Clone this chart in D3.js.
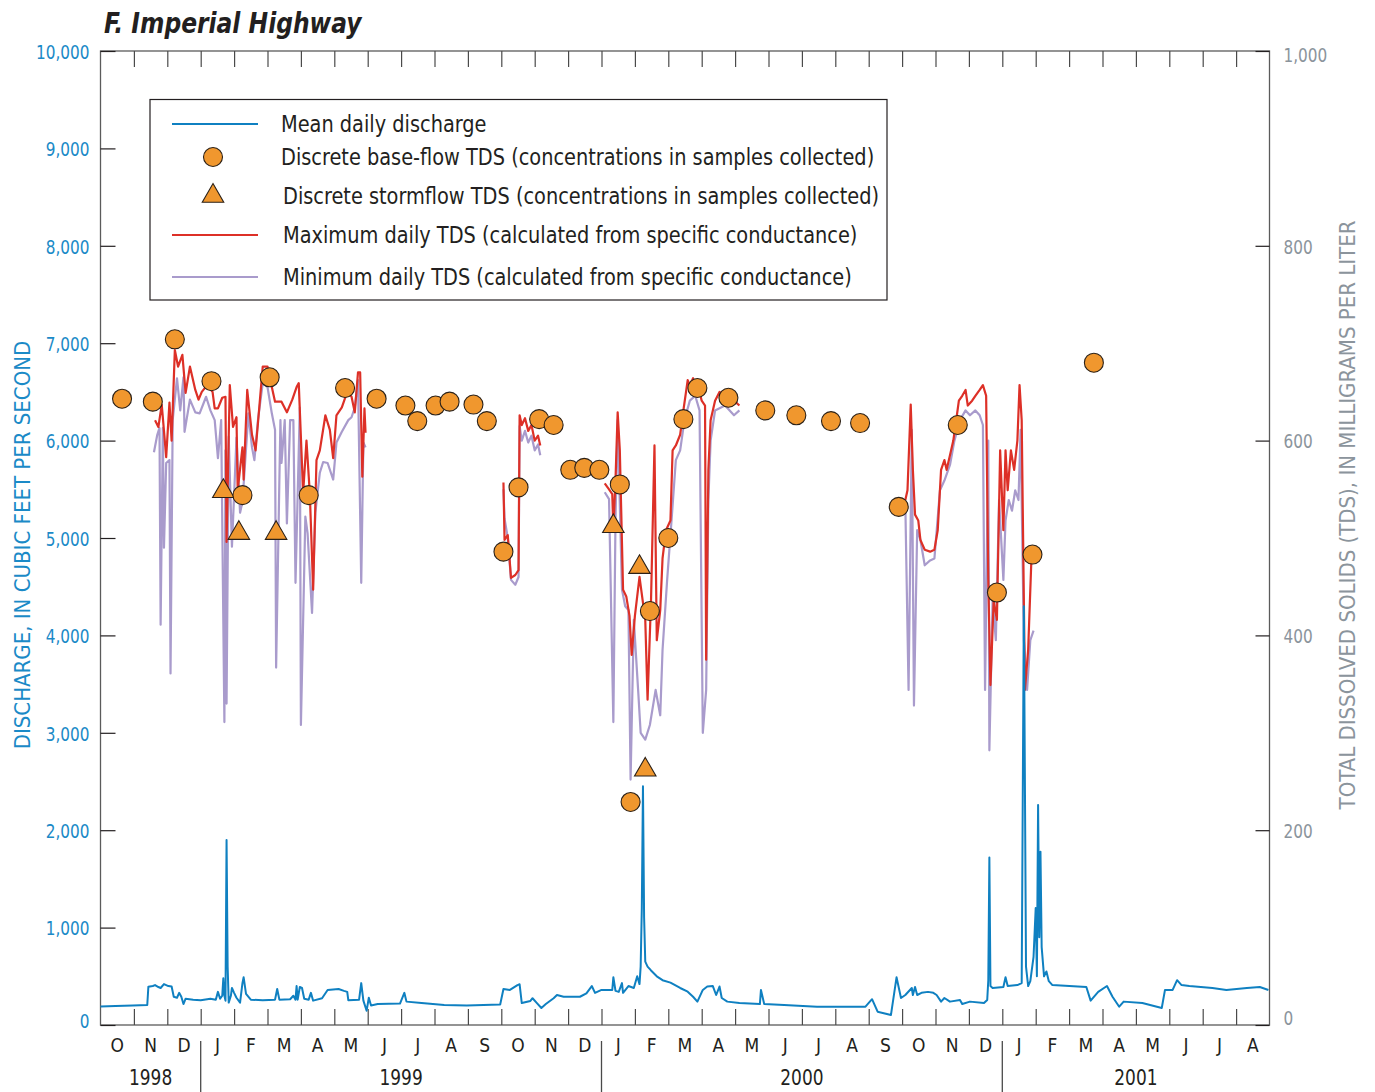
<!DOCTYPE html>
<html>
<head>
<meta charset="utf-8">
<script src="https://cdn.jsdelivr.net/npm/d3@7"></script>
<style>
  html, body { margin: 0; padding: 0; background: #fff; }
  svg { display: block; }
  text { font-family: "DejaVu Sans Condensed", "Liberation Sans Narrow", sans-serif; }
</style>
</head>
<body>
<svg id="chart" width="1375" height="1092"></svg>
<script>
// ---- Data -------------------------------------------------------------
// Mean daily discharge, cubic feet per second
const discharge = [
  ["1998-10-01",190],["1998-10-15",195],["1998-10-31",200],["1998-11-13",205],["1998-11-14",393],
  ["1998-11-18",400],["1998-11-20",410],["1998-11-23",390],["1998-11-25",380],["1998-11-28",420],
  ["1998-12-02",400],["1998-12-05",395],["1998-12-07",290],["1998-12-10",280],["1998-12-12",330],
  ["1998-12-14",290],["1998-12-16",215],["1998-12-18",270],["1998-12-25",260],["1999-01-01",255],
  ["1999-01-10",270],["1999-01-15",260],["1999-01-17",340],["1999-01-19",270],["1999-01-21",300],
  ["1999-01-22",480],["1999-01-23",300],["1999-01-24",250],["1999-01-25",1900],["1999-01-26",600],
  ["1999-01-27",230],["1999-01-29",300],["1999-01-30",380],["1999-02-01",330],["1999-02-03",280],
  ["1999-02-06",230],["1999-02-08",430],["1999-02-09",490],["1999-02-11",320],["1999-02-15",260],
  ["1999-02-25",255],["1999-03-08",260],["1999-03-10",370],["1999-03-12",260],["1999-03-22",265],
  ["1999-03-25",300],["1999-03-27",260],["1999-03-28",400],["1999-03-29",260],["1999-03-31",390],
  ["1999-04-02",380],["1999-04-04",270],["1999-04-08",260],["1999-04-10",330],["1999-04-12",250],
  ["1999-04-20",275],["1999-04-25",360],["1999-05-05",370],["1999-05-10",350],["1999-05-13",340],
  ["1999-05-14",255],["1999-05-24",260],["1999-05-26",430],["1999-05-28",250],["1999-05-31",147],
  ["1999-06-02",280],["1999-06-04",200],["1999-06-10",215],["1999-06-30",220],["1999-07-04",330],
  ["1999-07-06",240],["1999-07-20",225],["1999-08-10",205],["1999-08-31",200],["1999-09-15",205],
  ["1999-09-30",210],["1999-10-03",370],["1999-10-09",360],["1999-10-16",410],["1999-10-18",418],
  ["1999-10-20",225],["1999-10-28",247],["1999-10-30",275],["1999-11-03",225],["1999-11-07",175],
  ["1999-11-11",215],["1999-11-18",275],["1999-11-21",308],["1999-11-27",290],["1999-12-12",290],
  ["1999-12-18",325],["1999-12-23",400],["1999-12-26",330],["2000-01-01",360],["2000-01-11",360],
  ["2000-01-12",490],["2000-01-14",350],["2000-01-17",340],["2000-01-20",430],["2000-01-21",330],
  ["2000-01-26",400],["2000-01-31",380],["2000-02-03",500],["2000-02-05",420],["2000-02-06",600],
  ["2000-02-07",1200],["2000-02-08",2450],["2000-02-09",1100],["2000-02-10",650],["2000-02-12",600],
  ["2000-02-15",560],["2000-02-20",500],["2000-02-25",460],["2000-03-03",435],["2000-03-12",380],
  ["2000-03-19",342],["2000-03-24",290],["2000-03-28",240],["2000-04-02",360],["2000-04-06",395],
  ["2000-04-11",400],["2000-04-14",308],["2000-04-17",395],["2000-04-19",277],["2000-04-24",240],
  ["2000-05-05",225],["2000-05-24",215],["2000-05-25",360],["2000-05-28",215],["2000-06-15",205],
  ["2000-07-15",188],["2000-08-29",188],["2000-09-04",265],["2000-09-09",137],["2000-09-21",103],
  ["2000-09-26",490],["2000-09-30",277],["2000-10-04",308],["2000-10-10",380],["2000-10-11",308],
  ["2000-10-13",390],["2000-10-15",308],["2000-10-19",330],["2000-10-25",340],["2000-10-30",330],
  ["2000-11-02",308],["2000-11-06",240],["2000-11-09",277],["2000-11-14",240],["2000-11-23",257],
  ["2000-11-25",215],["2000-12-02",240],["2000-12-15",225],["2000-12-18",257],["2000-12-19",460],
  ["2000-12-20",1720],["2000-12-21",400],["2000-12-23",380],["2001-01-02",390],["2001-01-04",490],
  ["2001-01-06",400],["2001-01-15",410],["2001-01-19",430],["2001-01-21",4300],["2001-01-23",600],
  ["2001-01-25",400],["2001-01-27",450],["2001-01-30",700],["2001-02-01",1200],["2001-02-02",500],
  ["2001-02-03",2260],["2001-02-04",900],["2001-02-05",1780],["2001-02-06",800],["2001-02-08",500],
  ["2001-02-10",550],["2001-02-12",450],["2001-02-15",410],["2001-03-17",390],["2001-03-21",250],
  ["2001-03-28",340],["2001-04-05",400],["2001-04-10",290],["2001-04-16",188],["2001-04-20",240],
  ["2001-05-07",225],["2001-05-25",175],["2001-05-28",360],["2001-06-04",360],["2001-06-08",460],
  ["2001-06-12",410],["2001-06-19",400],["2001-07-10",380],["2001-07-23",360],["2001-08-11",380],
  ["2001-08-23",390],["2001-08-31",360]
];

// Maximum daily TDS, mg/L (one array per continuous record period)
const tdsMax1 = [
  ["1998-11-20",621],["1998-11-23",614],["1998-11-26",637],["1998-11-30",583],["1998-12-03",639],
  ["1998-12-05",600],["1998-12-08",693],["1998-12-11",676],["1998-12-15",688],["1998-12-18",649],
  ["1998-12-22",676],["1998-12-27",652],["1998-12-30",642],["1999-01-02",650],["1999-01-07",657],
  ["1999-01-12",650],["1999-01-14",633],["1999-01-17",633],["1999-01-21",644],["1999-01-24",645],
  ["1999-01-25",496],["1999-01-28",657],["1999-01-31",614],["1999-02-03",624],["1999-02-04",549],
  ["1999-02-08",593],["1999-02-09",560],["1999-02-12",652],["1999-02-16",606],["1999-02-19",590],
  ["1999-02-21",618],["1999-02-25",676],["1999-03-01",676],["1999-03-05",655],["1999-03-08",640],
  ["1999-03-14",640],["1999-03-19",629],["1999-03-24",642],["1999-03-28",655],["1999-03-30",659],
  ["1999-04-03",546],["1999-04-06",600],["1999-04-09",546],["1999-04-12",447],["1999-04-15",580],
  ["1999-04-18",590],["1999-04-23",626],["1999-04-27",611],["1999-04-30",582],["1999-05-03",626],
  ["1999-05-08",634],["1999-05-13",650],["1999-05-17",645],["1999-05-20",629],["1999-05-23",670],
  ["1999-05-25",670],["1999-05-27",563],["1999-05-29",633],["1999-05-30",608]
];
const tdsMax2 = [
  ["1999-10-03",557],["1999-10-04",498],["1999-10-07",503],["1999-10-10",459],["1999-10-14",462],
  ["1999-10-17",467],["1999-10-18",626],["1999-10-20",616],["1999-10-23",623],["1999-10-26",610],
  ["1999-10-29",616],["1999-11-01",600],["1999-11-04",605],["1999-11-06",595]
];
const tdsMax3 = [
  ["2000-01-04",556],["2000-01-08",550],["2000-01-11",545],["2000-01-12",508],["2000-01-14",560],
  ["2000-01-16",629],["2000-01-18",590],["2000-01-21",447],["2000-01-24",440],["2000-01-27",420],
  ["2000-01-29",380],["2000-02-01",420],["2000-02-05",460],["2000-02-10",416],["2000-02-12",334],
  ["2000-02-15",436],["2000-02-18",595],["2000-02-20",395],["2000-02-23",426],["2000-02-25",479],
  ["2000-02-28",508],["2000-03-03",518],["2000-03-05",590],["2000-03-08",595],["2000-03-12",606],
  ["2000-03-15",631],["2000-03-19",662],["2000-03-21",657],["2000-03-24",664],["2000-03-27",652],
  ["2000-03-30",650],["2000-04-01",641],["2000-04-04",636],["2000-04-05",375],["2000-04-07",570],
  ["2000-04-09",621],["2000-04-13",641],["2000-04-17",650],["2000-04-22",647],["2000-04-26",644],
  ["2000-04-30",641],["2000-05-05",636]
];
const tdsMax4 = [
  ["2000-10-04",539],["2000-10-06",549],["2000-10-09",637],["2000-10-11",570],["2000-10-13",524],
  ["2000-10-16",518],["2000-10-18",498],["2000-10-22",488],["2000-10-27",486],["2000-10-31",488],
  ["2000-11-03",508],["2000-11-06",570],["2000-11-09",580],["2000-11-11",570],["2000-11-14",585],
  ["2000-11-17",600],["2000-11-19",616],["2000-11-22",641],["2000-11-25",646],["2000-11-28",652],
  ["2000-11-30",636],["2000-12-04",641],["2000-12-07",646],["2000-12-11",652],["2000-12-14",657],
  ["2000-12-17",646],["2000-12-19",457],["2000-12-21",349],["2000-12-24",436],["2000-12-27",416],
  ["2000-12-30",590],["2001-01-02",508],["2001-01-04",590],["2001-01-06",549],["2001-01-09",590],
  ["2001-01-12",570],["2001-01-15",600],["2001-01-17",657],["2001-01-19",621],["2001-01-22",344],
  ["2001-01-25",385],["2001-01-28",478],["2001-01-30",483]
];

// Minimum daily TDS, mg/L
const tdsMin1 = [
  ["1998-11-19",588],["1998-11-22",606],["1998-11-24",613],["1998-11-25",411],["1998-11-27",613],
  ["1998-11-28",490],["1998-11-30",577],["1998-12-03",580],["1998-12-04",361],["1998-12-06",621],
  ["1998-12-10",664],["1998-12-13",631],["1998-12-16",665],["1998-12-17",609],["1998-12-22",642],
  ["1998-12-27",629],["1998-12-31",628],["1999-01-06",645],["1999-01-10",631],["1999-01-14",621],
  ["1999-01-17",582],["1999-01-20",621],["1999-01-23",311],["1999-01-24",590],["1999-01-25",330],
  ["1999-01-27",604],["1999-01-30",491],["1999-02-03",603],["1999-02-06",526],["1999-02-08",537],
  ["1999-02-13",628],["1999-02-16",593],["1999-02-18",580],["1999-02-21",621],["1999-02-25",659],
  ["1999-03-01",655],["1999-03-05",628],["1999-03-08",611],["1999-03-09",367],["1999-03-13",621],
  ["1999-03-14",577],["1999-03-17",621],["1999-03-19",515],["1999-03-22",621],["1999-03-25",621],
  ["1999-03-27",454],["1999-03-31",634],["1999-04-01",308],["1999-04-05",522],["1999-04-07",505],
  ["1999-04-11",423],["1999-04-14",526],["1999-04-18",567],["1999-04-21",578],["1999-04-25",577],
  ["1999-04-30",560],["1999-05-03",598],["1999-05-08",609],["1999-05-14",621],["1999-05-17",624],
  ["1999-05-20",634],["1999-05-23",662],["1999-05-26",454],["1999-05-28",598],["1999-05-30",593]
];
const tdsMin2 = [
  ["1999-10-03",550],["1999-10-04",520],["1999-10-07",500],["1999-10-10",457],["1999-10-14",452],
  ["1999-10-17",460],["1999-10-18",615],["1999-10-20",600],["1999-10-23",610],["1999-10-26",598],
  ["1999-10-29",605],["1999-11-01",590],["1999-11-04",596],["1999-11-06",585]
];
const tdsMin3 = [
  ["2000-01-04",547],["2000-01-08",540],["2000-01-12",311],["2000-01-14",520],["2000-01-16",621],
  ["2000-01-20",447],["2000-01-23",430],["2000-01-26",426],["2000-01-28",252],["2000-01-31",416],
  ["2000-02-04",340],["2000-02-06",300],["2000-02-10",293],["2000-02-14",308],["2000-02-19",344],
  ["2000-02-23",318],["2000-02-25",385],["2000-02-29",457],["2000-03-04",518],["2000-03-08",580],
  ["2000-03-12",590],["2000-03-16",621],["2000-03-21",641],["2000-03-26",646],["2000-03-30",631],
  ["2000-04-02",300],["2000-04-05",344],["2000-04-07",539],["2000-04-09",600],["2000-04-13",631],
  ["2000-04-22",636],["2000-04-30",626],["2000-05-05",631]
];
const tdsMin4 = [
  ["2000-10-04",534],["2000-10-07",344],["2000-10-10",611],["2000-10-12",328],["2000-10-15",508],
  ["2000-10-18",498],["2000-10-22",472],["2000-10-27",477],["2000-10-31",479],["2000-11-05",549],
  ["2000-11-09",559],["2000-11-14",575],["2000-11-18",600],["2000-11-23",621],["2000-11-28",631],
  ["2000-12-02",626],["2000-12-07",631],["2000-12-11",626],["2000-12-14",616],["2000-12-16",344],
  ["2000-12-19",600],["2000-12-20",282],["2000-12-23",436],["2000-12-26",395],["2000-12-29",539],
  ["2001-01-02",457],["2001-01-04",518],["2001-01-07",539],["2001-01-10",528],["2001-01-13",549],
  ["2001-01-16",539],["2001-01-18",611],["2001-01-21",395],["2001-01-24",344],["2001-01-27",395],
  ["2001-01-30",405]
];

// Discrete samples, TDS mg/L
const baseflowSamples = [
  ["1998-10-21",643],["1998-11-18",640],["1998-12-08",704],["1999-01-11",661],["1999-02-08",544],
  ["1999-03-03",665],["1999-04-08",544],["1999-05-11",654],["1999-06-09",643],["1999-07-05",636],
  ["1999-07-16",620],["1999-08-02",636],["1999-08-15",640],["1999-09-06",637],["1999-09-18",620],
  ["1999-10-03",486],["1999-10-17",552],["1999-11-05",622],["1999-11-18",616],["1999-12-03",570],
  ["1999-12-16",572],["1999-12-30",570],["2000-01-18",555],["2000-01-28",229],["2000-02-14",425],
  ["2000-03-01",500],["2000-03-15",622],["2000-03-28",654],["2000-04-25",644],["2000-05-29",631],
  ["2000-06-26",626],["2000-07-28",620],["2000-08-24",618],["2000-09-28",532],["2000-11-21",616],
  ["2000-12-27",444],["2001-01-29",483],["2001-03-24",680]
];
const stormflowSamples = [
  ["1999-01-22",548],["1999-02-05",505],["1999-03-09",505],["2000-01-12",512],["2000-02-05",470],
  ["2000-02-10",262]
];

// Axis labels
const monthLetters = ["J","F","M","A","M","J","J","A","S","O","N","D"];
const yearLabels = ["1998","1999","2000","2001"];
const dischargeTicks = [0,1000,2000,3000,4000,5000,6000,7000,8000,9000,10000];
const tdsTicks = [0,200,400,600,800,1000];
const legendLabels = [
  "Mean daily discharge",
  "Discrete base-flow TDS (concentrations in samples collected)",
  "Discrete stormflow TDS (concentrations in samples collected)",
  "Maximum daily TDS (calculated from specific conductance)",
  "Minimum daily TDS (calculated from specific conductance)"
];

// ---- Layout -------------------------------------------------------------
const parse = d3.timeParse("%Y-%m-%d");
const svg = d3.select("#chart");
const pLeft = 100.5, pRight = 1269.5, pTop = 51, pBottom = 1025;

const COL = {
  q: "#0f80c1", qText: "#1b8ac7", tdsText: "#8b949c", max: "#dd3027",
  min: "#a99bcc", marker: "#f0972e", ink: "#231f20"
};

// Narrow the glyphs horizontally (the typeface is a condensed one)
function squeeze(sel, k) {
  sel.each(function () {
    const t = d3.select(this);
    const x0 = +t.attr("x") || 0;
    t.attr("x", x0 / k).attr("transform", ((t.attr("transform") || "") + ` scale(${k},1)`).trim());
  });
}

// Each month gets equal width on the time axis
const monthStarts = d3.timeMonth.range(new Date(1998, 9, 1), new Date(2001, 8, 2));
const mw = (pRight - pLeft) / (monthStarts.length - 1);
const x = d3.scaleTime().domain(monthStarts).range(monthStarts.map((d, i) => pLeft + i * mw));
const yQ = d3.scaleLinear().domain([0, 10000]).range([pBottom, pTop]);
const yT = d3.scaleLinear().domain([0, 1000]).range([pBottom, pTop]);

// Title
svg.append("text").attr("x", 104).attr("y", 33)
  .style("font-size", "28px").style("font-weight", "bold").style("font-style", "italic")
  .attr("fill", COL.ink).text("F. Imperial Highway")
  .call(squeeze, 0.93);

// Frame
svg.append("rect").attr("x", pLeft).attr("y", pTop).attr("width", pRight - pLeft).attr("height", pBottom - pTop)
  .attr("fill", "none").attr("stroke", "#5b5b5b").attr("stroke-width", 1.3);

// Month ticks on top and bottom (pointing inward)
const innerMonths = monthStarts.slice(1, -1);
const gTop = svg.append("g").attr("transform", `translate(0,${pTop})`)
  .call(d3.axisTop(x).tickValues(innerMonths).tickSizeInner(-16).tickSizeOuter(0).tickFormat(""));
const gBot = svg.append("g").attr("transform", `translate(0,${pBottom})`)
  .call(d3.axisBottom(x).tickValues(innerMonths).tickSizeInner(-16).tickSizeOuter(0).tickFormat(""));
[gTop, gBot].forEach(g => {
  g.select(".domain").remove();
  g.selectAll("line").attr("stroke", "#4a4a4a").attr("stroke-width", 1.2);
});

// Left discharge axis (end labels nudged inside the frame corners)
const gL = svg.append("g").attr("transform", `translate(${pLeft},0)`)
  .call(d3.axisLeft(yQ).tickValues(dischargeTicks).tickSizeInner(-15).tickSizeOuter(0)
    .tickPadding(11).tickFormat(d3.format(",")));
gL.select(".domain").remove();
gL.selectAll("line").attr("stroke", "#231f20").attr("stroke-width", 1.2);
gL.selectAll("text").attr("fill", COL.qText).style("font-size", "20px")
  .style("font-family", "'DejaVu Sans Condensed',sans-serif")
  .attr("dy", d => d === 0 ? "0.1em" : "0.36em")
  .call(squeeze, 0.85);

// Right TDS axis
const gR = svg.append("g").attr("transform", `translate(${pRight},0)`)
  .call(d3.axisRight(yT).tickValues(tdsTicks).tickSizeInner(-14).tickSizeOuter(0)
    .tickPadding(14).tickFormat(d3.format(",")));
gR.select(".domain").remove();
gR.selectAll("line").attr("stroke", "#231f20").attr("stroke-width", 1.2);
gR.selectAll("text").attr("fill", COL.tdsText).style("font-size", "20px")
  .style("font-family", "'DejaVu Sans Condensed',sans-serif")
  .attr("dy", d => d === 0 ? "-0.04em" : d === 1000 ? "0.52em" : "0.36em")
  .call(squeeze, 0.85);

// Axis titles
svg.append("text").attr("transform", `translate(30,${545}) rotate(-90)`)
  .attr("text-anchor", "middle").style("font-size", "22px").attr("fill", COL.qText)
  .text("DISCHARGE, IN CUBIC FEET PER SECOND");
svg.append("text").attr("transform", `translate(1355,${515}) rotate(-90)`)
  .attr("text-anchor", "middle").style("font-size", "22px").attr("fill", COL.tdsText)
  .text("TOTAL DISSOLVED SOLIDS (TDS), IN MILLIGRAMS PER LITER");

// Month letters and year labels below the plot
svg.append("g").selectAll("text").data(monthStarts.slice(0, -1)).join("text")
  .attr("x", d => x(d) + mw / 2).attr("y", 1052).attr("text-anchor", "middle")
  .style("font-size", "19px").attr("fill", COL.ink)
  .text(d => monthLetters[d.getMonth()]);

const yearSpans = yearLabels.map(y => {
  const yr = +y;
  const a = d3.max([new Date(yr, 0, 1), monthStarts[0]]);
  const b = d3.min([new Date(yr + 1, 0, 1), monthStarts[monthStarts.length - 1]]);
  return { label: y, a, b };
});
svg.append("g").selectAll("text").data(yearSpans).join("text")
  .attr("x", d => (x(d.a) + x(d.b)) / 2).attr("y", 1085).attr("text-anchor", "middle")
  .style("font-size", "21px").attr("fill", COL.ink).text(d => d.label)
  .call(squeeze, 0.9);
svg.append("g").selectAll("line").data(yearSpans.slice(1)).join("line")
  .attr("x1", d => x(d.a)).attr("x2", d => x(d.a)).attr("y1", 1041).attr("y2", 1092)
  .attr("stroke", "#4a4a4a").attr("stroke-width", 1.3);

// ---- Series -------------------------------------------------------------
const toPts = arr => arr.map(([d, v]) => ({ date: parse(d), v }));
const lineT = d3.line().x(d => x(d.date)).y(d => yT(d.v));
const lineQ = d3.line().x(d => x(d.date)).y(d => yQ(d.v));

const plot = svg.append("g");
[tdsMin1, tdsMin2, tdsMin3, tdsMin4].forEach(s => {
  plot.append("path").datum(toPts(s)).attr("d", lineT)
    .attr("fill", "none").attr("stroke", COL.min).attr("stroke-width", 2.2).attr("stroke-linejoin", "round");
});
[tdsMax1, tdsMax2, tdsMax3, tdsMax4].forEach(s => {
  plot.append("path").datum(toPts(s)).attr("d", lineT)
    .attr("fill", "none").attr("stroke", COL.max).attr("stroke-width", 2.2).attr("stroke-linejoin", "round");
});
plot.append("path").datum(toPts(discharge)).attr("d", lineQ)
  .attr("fill", "none").attr("stroke", COL.q).attr("stroke-width", 2).attr("stroke-linejoin", "round");

const tri = d3.symbol().type(d3.symbolTriangle).size(200);
plot.append("g").selectAll("path").data(toPts(stormflowSamples)).join("path")
  .attr("transform", d => `translate(${x(d.date)},${yT(d.v)})`).attr("d", tri)
  .attr("fill", COL.marker).attr("stroke", "#2b2118").attr("stroke-width", 1.1);
plot.append("g").selectAll("circle").data(toPts(baseflowSamples)).join("circle")
  .attr("cx", d => x(d.date)).attr("cy", d => yT(d.v)).attr("r", 9.5)
  .attr("fill", COL.marker).attr("stroke", "#2b2118").attr("stroke-width", 1.1);

// ---- Legend -------------------------------------------------------------
const lg = svg.append("g");
lg.append("rect").attr("x", 150).attr("y", 99.5).attr("width", 737).attr("height", 200.5)
  .attr("fill", "#fff").attr("stroke", COL.ink).attr("stroke-width", 1.2);
const rowY = [124, 157, 196, 235, 277];
const textX = [281, 281, 283, 283, 283];
lg.append("line").attr("x1", 172).attr("x2", 258).attr("y1", rowY[0]).attr("y2", rowY[0])
  .attr("stroke", COL.q).attr("stroke-width", 2);
lg.append("circle").attr("cx", 213).attr("cy", rowY[1]).attr("r", 9.5)
  .attr("fill", COL.marker).attr("stroke", "#2b2118").attr("stroke-width", 1.1);
lg.append("path").attr("transform", `translate(213,${rowY[2]})`).attr("d", tri)
  .attr("fill", COL.marker).attr("stroke", "#2b2118").attr("stroke-width", 1.1);
lg.append("line").attr("x1", 172).attr("x2", 258).attr("y1", rowY[3]).attr("y2", rowY[3])
  .attr("stroke", COL.max).attr("stroke-width", 2);
lg.append("line").attr("x1", 172).attr("x2", 258).attr("y1", rowY[4]).attr("y2", rowY[4])
  .attr("stroke", COL.min).attr("stroke-width", 2);
lg.selectAll("text.lab").data(legendLabels).join("text").attr("class", "lab")
  .attr("x", (d, i) => textX[i]).attr("y", (d, i) => rowY[i]).attr("dy", "0.35em")
  .style("font-size", "23.5px").attr("fill", COL.ink).text(d => d)
  .call(squeeze, 0.915);
</script>
</body>
</html>
